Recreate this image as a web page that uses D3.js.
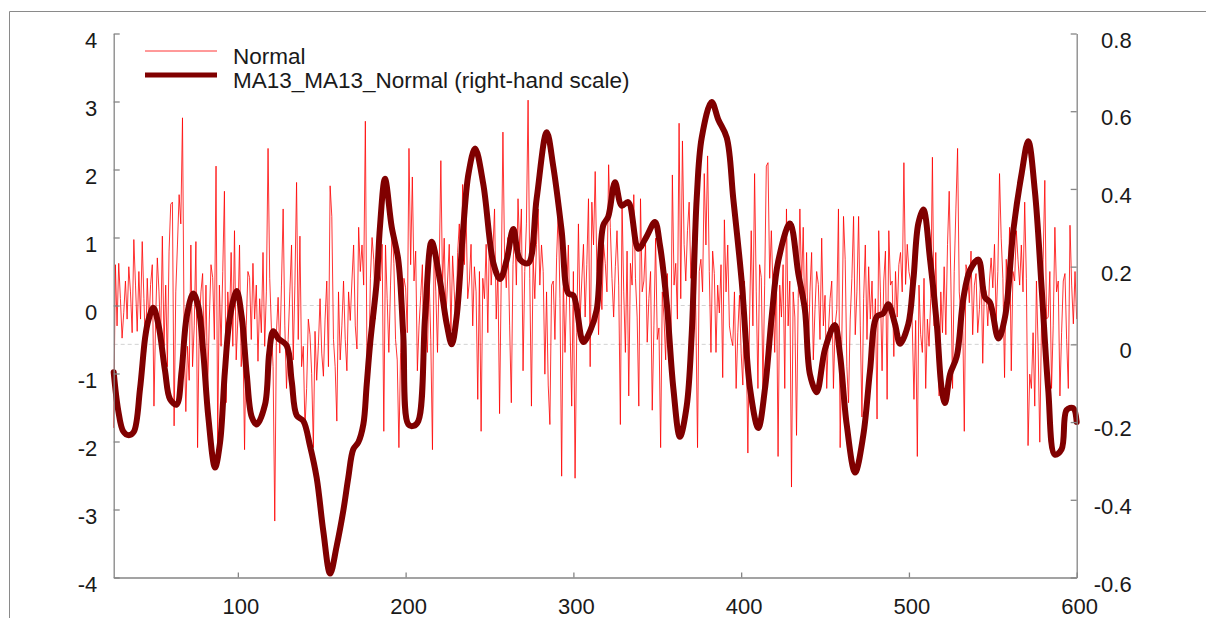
<!DOCTYPE html>
<html><head><meta charset="utf-8">
<script src="https://cdn.jsdelivr.net/npm/d3@7"></script>
<style>body{margin:0;background:#fff} svg{display:block} text{font-family:"Liberation Sans",Arial,sans-serif}</style>
</head><body><svg id="c" width="1206" height="618"></svg>
<script>
const normalStart = 26;
const normal = [
-1.8,0.6,-0.3,0.62,0.1,-0.48,-0.1,0.36,-0.2,0.57,
0.2,-0.4,0.97,0.3,-0.38,0.5,-0.2,0.94,0.1,-0.69,
0.4,-0.3,0.31,0.6,-1.48,-0.2,0.7,0.2,-0.5,1.02,
-0.6,0.3,-0.9,0.8,1.49,1.52,-1.77,0.2,0.89,1.63,
1.2,2.76,-0.5,-1.56,-0.6,-1.1,0.89,-0.9,-0.3,0.94,
-2.09,-0.3,0.2,0.47,-0.8,0.3,-1.22,-0.2,0.6,0.41,
-0.5,2.05,-2.01,0.3,-0.6,0.5,1.68,-1.43,0.2,-0.3,
0.78,-0.6,1.1,-0.8,-0.2,0.89,-0.9,-0.4,-2.12,-0.3,
0.5,0.41,-0.5,0.62,-0.2,0.3,-0.82,0.1,-0.4,0.78,
-0.6,0.2,2.31,0.4,-0.33,-0.9,-3.17,-0.4,0.12,-0.7,
0.3,1.42,-0.3,-1.22,-0.5,0.2,0.89,-0.8,0.3,1.81,
-0.5,1.02,-0.9,-0.6,-1.8,-1.22,-0.2,-0.43,-1.0,-2.09,
-0.38,-1.1,-0.59,0.1,-0.7,-1.04,-0.2,0.36,-0.9,1.76,
1.31,-0.5,-0.9,-1.7,0.2,-0.8,-0.3,0.36,-0.5,-0.96,
0.2,-0.22,0.36,0.89,-0.3,-0.64,1.15,0.5,0.89,0.3,
2.71,-1.0,-1.09,0.4,1.0,0.68,-0.2,0.84,0.5,0.36,
0.9,-1.85,0.89,0.1,-0.69,0.3,1.15,0.62,-0.5,-0.8,
-2.09,-0.69,-0.2,0.4,0.26,-0.4,2.31,0.6,1.89,0.36,
0.8,-0.96,-0.3,0.15,0.6,-1.22,-0.2,-0.69,0.4,-0.5,
-2.12,0.89,0.2,-0.69,0.5,2.13,0.3,0.99,-0.2,0.36,
0.9,-0.38,0.73,0.2,-0.38,0.78,1.2,0.4,1.78,0.6,
1.42,0.1,0.36,0.9,-0.3,0.57,0.2,-1.38,0.5,-1.85,
0.4,0.1,0.9,-0.4,1.1,0.3,0.8,1.42,-0.2,0.5,
-1.59,0.4,2.55,0.7,0.26,1.0,-0.3,-1.43,0.6,1.15,
0.3,1.57,0.8,1.42,-0.96,0.5,1.2,3.02,0.4,-1.48,
0.7,0.1,0.9,1.42,0.3,0.89,0.5,-1.01,0.2,-1.17,
-1.75,0.3,0.36,-0.5,0.7,1.42,0.1,-2.51,0.4,-0.69,
0.2,0.89,-0.3,-1.48,0.5,-2.54,-0.4,1.2,-0.2,0.36,
0.9,-0.17,0.6,1.57,-0.9,1.52,0.89,1.97,0.5,-0.43,
0.4,-0.06,0.9,0.62,0.2,2.07,1.15,0.4,-0.17,0.57,
1.1,0.3,-1.75,1.52,0.2,-0.69,0.8,-1.33,0.62,0.3,
1.63,0.4,-0.17,-1.48,1.57,0.2,0.36,0.9,-0.54,0.1,
0.5,-1.54,-0.3,0.99,-0.5,-0.33,-2.09,0.2,-0.17,-0.8,
0.47,-0.4,-0.96,1.92,0.3,0.62,-0.2,2.68,0.1,2.42,
0.9,0.36,1.1,1.52,0.4,0.89,1.3,-0.17,-2.09,0.5,
0.68,0.2,1.94,0.89,2.2,0.5,-0.69,0.8,0.47,-0.69,
0.3,-0.11,0.6,-1.06,1.26,0.2,0.89,-0.3,-0.48,-0.59,
0.2,-1.22,-0.4,0.15,-0.7,-1.17,0.36,-0.5,-2.17,-0.2,
1.1,-0.3,1.94,0.2,-1.22,0.6,0.41,-1.22,0.3,2.05,
2.1,0.4,1.1,0.2,-0.69,0.5,-2.22,0.3,-0.17,0.6,
-1.22,1.42,-0.3,0.36,-2.67,0.2,-0.17,-1.91,0.1,1.42,
0.3,1.15,-0.4,0.78,-0.69,0.2,0.78,-0.8,-0.06,0.5,
0.31,-0.5,0.99,-0.3,0.15,-1.22,-0.4,0.1,0.36,-1.22,
-0.3,-0.06,1.42,-2.09,-0.5,1.31,0.68,-0.9,-1.43,-0.2,
0.4,1.31,-0.43,0.2,1.31,-0.3,-1.64,0.1,0.89,-0.5,
0.57,-0.2,0.36,-0.6,0.1,-1.67,1.1,0.2,-0.96,0.36,
0.8,-1.38,1.1,0.3,0.36,-0.75,0.5,-0.17,0.6,0.78,
0.2,2.1,0.31,0.9,0.5,0.36,-0.3,-1.38,-0.22,-2.22,
0.3,-0.43,-0.69,0.4,-1.22,-0.2,-0.6,0.1,2.18,-0.3,
0.78,-0.5,-1.33,0.2,-0.4,0.57,-0.43,0.9,1.68,0.36,
-1.22,0.5,1.42,2.31,0.2,-0.17,-0.11,-1.85,0.6,0.47,
0.04,0.8,-0.43,0.3,0.47,-0.4,-0.06,0.6,-0.85,0.3,
0.2,-0.3,0.36,0.7,0.26,0.9,-0.22,0.5,1.94,0.99,
0.4,-1.06,0.68,0.2,1.15,-0.96,0.5,0.36,1.1,0.68,
0.3,0.89,0.2,1.52,0.4,-2.06,-1.01,-1.22,-0.4,-1.48,
0.36,-0.6,-2.01,-0.3,0.68,1.84,-0.2,-0.17,0.5,-1.22,
-0.3,1.15,0.2,0.36,-1.33,-0.4,0.36,0.47,-0.5,-1.22,
1.18,0.3,-0.27,0.5,-0.2
];
const maT = [26,28.7,31.7,35,38,41.7,44.7,46.6,49.6,52.6,56.6,59.6,63.5,66.5,69.5,73.4,76.4,79.4,82.4,86.4,89.4,92.3,95.3,99.3,102.3,105.3,108.3,111.2,116.2,118.7,121.1,124.1,129.1,132.1,135.1,139,143,147,151,155,158.9,162.9,165.8,168.8,171.8,174.8,176.8,178.8,182.8,184.7,187.7,191.7,195.6,198.6,201.6,204.6,207.6,211.6,215.5,220.5,224.5,227.5,230.4,234.4,237.5,241.4,246.3,252.3,256.3,260.3,264.2,268.2,273.1,278.1,284.1,288,293,297,300,305.9,309.9,313.9,317.8,320.8,324.8,328.8,332.7,338.7,343.7,348.6,351.6,355.6,359.6,363.5,367.5,370.5,373.5,376.5,382.4,386.4,391.4,395.3,400.3,405.3,410.2,414.2,418.2,422.1,429.1,434.1,438,441,445,450,455.8,458.8,462.9,467.9,472.8,476.8,480.8,484.7,487.7,491.7,494.7,499.6,502.6,505.6,508.6,512.6,516.6,519.5,521.5,524.5,528.5,532.4,536.4,541.4,545.3,548.3,553.3,557.3,562.2,567.2,571.1,575.1,579.1,583,587,591,594,597.9,600];
const maV = [-0.072,-0.17,-0.224,-0.234,-0.225,-0.114,0.016,0.061,0.094,0.052,-0.068,-0.141,-0.155,-0.068,0.071,0.131,0.098,-0.022,-0.187,-0.317,-0.252,-0.068,0.071,0.137,0.071,-0.077,-0.187,-0.206,-0.155,-0.022,0.034,0.015,-0.003,-0.095,-0.183,-0.197,-0.261,-0.344,-0.483,-0.59,-0.519,-0.427,-0.344,-0.27,-0.252,-0.206,-0.104,0.0,0.163,0.302,0.426,0.302,0.218,0.024,-0.206,-0.21,-0.197,0.071,0.264,0.163,0.052,0.0,0.071,0.302,0.44,0.504,0.412,0.209,0.168,0.218,0.297,0.218,0.209,0.375,0.546,0.458,0.292,0.131,0.126,0.006,0.034,0.089,0.306,0.329,0.417,0.357,0.366,0.246,0.278,0.315,0.255,0.108,-0.114,-0.238,-0.16,0.024,0.375,0.532,0.624,0.578,0.532,0.375,0.163,-0.114,-0.215,-0.114,0.071,0.214,0.311,0.181,0.089,-0.077,-0.123,-0.012,0.05,-0.022,-0.206,-0.33,-0.234,-0.068,0.071,0.08,0.103,0.052,0.0015,0.052,0.163,0.311,0.347,0.218,0.052,-0.114,-0.151,-0.077,-0.031,0.117,0.191,0.218,0.121,0.108,0.015,0.071,0.292,0.44,0.523,0.393,0.145,-0.114,-0.284,-0.27,-0.169,-0.164,-0.2];
const xTicks = [100,200,300,400,500,600];
const leftTicks = [-4,-3,-2,-1,0,1,2,3,4];
const rightTicks = [-0.6,-0.4,-0.2,0,0.2,0.4,0.6,0.8];
const seriesNames = ["Normal","MA13_MA13_Normal (right-hand scale)"];

const svg = d3.select("#c");
const L=113.7,R=1076.7,T=33.5,B=577.5;
const x = d3.scaleLinear().domain([26,600]).range([L,R]);
const yL = d3.scaleLinear().domain([-4,4]).range([B,T]);
const yR = d3.scaleLinear().domain([-0.6,0.8]).range([B,T]);
const axisCol="#858585", textCol="#1a1a1a";

svg.append("path").attr("d","M9.5,618V11.5H1206").attr("fill","none").attr("stroke","#8a8a8a").attr("stroke-width",1);

// zero reference lines
svg.append("line").attr("x1",L).attr("x2",R).attr("y1",yL(0)).attr("y2",yL(0))
  .attr("stroke","#d2d2d2").attr("stroke-dasharray","4,3");
svg.append("line").attr("x1",L).attr("x2",R).attr("y1",yR(0)).attr("y2",yR(0))
  .attr("stroke","#d2d2d2").attr("stroke-dasharray","4,3");

// series
const nData = normal.map((v,i)=>[normalStart+i,v]);
svg.append("path").datum(nData)
  .attr("d",d3.line().x(d=>x(d[0])).y(d=>yL(d[1])))
  .attr("fill","none").attr("stroke","#ff0000").attr("stroke-width",0.8);
const mData = maT.map((t,i)=>[t,maV[i]]);
svg.append("path").datum(mData)
  .attr("d",d3.line().x(d=>x(d[0])).y(d=>yR(d[1])).curve(d3.curveCatmullRom))
  .attr("fill","none").attr("stroke","#800000").attr("stroke-width",6)
  .attr("stroke-linejoin","round").attr("stroke-linecap","round");

function style(g){
  g.select(".domain").attr("stroke",axisCol).attr("stroke-width",1.3);
  g.selectAll(".tick line").attr("stroke",axisCol).attr("stroke-width",1.3);
  g.selectAll(".tick text").attr("fill",textCol).style("font-size","22px")
   .style("font-family",'"Liberation Sans",Arial,sans-serif');
}
const gL = svg.append("g").attr("transform",`translate(${L},0)`)
  .call(d3.axisLeft(yL).tickValues(leftTicks).tickSizeInner(-6).tickSizeOuter(0).tickPadding(16.5).tickFormat(d=>String(d)));
style(gL); gL.selectAll(".tick text").attr("dy",null).attr("y",14);
const gR = svg.append("g").attr("transform",`translate(${R},0)`)
  .call(d3.axisRight(yR).tickValues(rightTicks).tickSizeInner(-6).tickSizeOuter(0).tickFormat(d=>d===0?"0":d.toFixed(1)));
style(gR); gR.selectAll(".tick text").attr("dy",null).attr("y",13.5).attr("x",55).attr("text-anchor","end");
const gB = svg.append("g").attr("transform",`translate(0,${B})`)
  .call(d3.axisBottom(x).tickValues(xTicks).tickSizeInner(-5).tickSizeOuter(0).tickFormat(d=>String(d)));
style(gB); gB.selectAll(".tick text").attr("dy",null).attr("y",36).attr("x",2.5);

// legend
const leg = svg.append("g");
leg.append("line").attr("x1",145).attr("x2",217).attr("y1",51).attr("y2",51).attr("stroke","#ff0000").attr("stroke-width",0.8);
leg.append("line").attr("x1",145).attr("x2",217).attr("y1",75).attr("y2",75).attr("stroke","#800000").attr("stroke-width",5);
leg.append("text").attr("x",233).attr("y",64).text(seriesNames[0]).attr("fill",textCol).style("font-size","22.5px");
leg.append("text").attr("x",233).attr("y",88.3).text(seriesNames[1]).attr("fill",textCol).style("font-size","22.5px");
</script></body></html>
